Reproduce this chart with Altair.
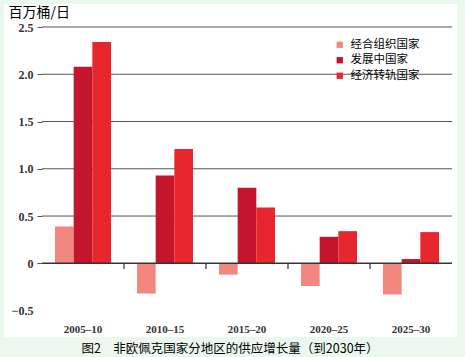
import altair as alt
import pandas as pd

periods = ["2005–10", "2010–15", "2015–20", "2020–25", "2025–30"]
series = ["经合组织国家", "发展中国家", "经济转轨国家"]
oecd = [0.39, -0.32, -0.12, -0.24, -0.33]
developing = [2.08, 0.93, 0.80, 0.28, 0.045]
transition = [2.34, 1.21, 0.59, 0.34, 0.33]
colors = ["#f2877f", "#c3162d", "#e8262d"]
y_ticks = [-0.5, 0, 0.5, 1.0, 1.5, 2.0, 2.5]
grid_values = [0.5, 1.0, 1.5, 2.0, 2.5]
boundaries = [1, 2, 3, 4]

rows = []
for i, p in enumerate(periods):
    for s, vals in zip(series, [oecd, developing, transition]):
        rows.append({"period": p, "series": s, "value": vals[i]})
df = pd.DataFrame(rows)

serif = "Liberation Serif"
cjk = "Noto Sans CJK SC"
yscale = alt.Scale(domain=[-0.6, 2.5], nice=False, zero=False)

yaxis = alt.Axis(
    values=y_ticks, grid=False, domain=False, tickSize=5,
    tickColor="#555555", tickWidth=1,
    tickOpacity={"condition": {"test": "datum.value < 0", "value": 0}, "value": 1},
    labelExpr="datum.value == 0 ? '0' : replace(format(datum.value, '.1f'), '-', '−')",
    labelFont=serif, labelFontSize=12, labelFontWeight="bold",
    labelColor="#333333", labelPadding=4, zindex=1,
    title="百万桶/日", titleAngle=0, titleX=-34, titleY=-15,
    titleAlign="left", titleBaseline="middle", titleFont=cjk,
    titleFontSize=14, titleFontWeight="normal", titleColor="black",
)

panel = alt.Chart(pd.DataFrame({"a": [0]})).mark_rect(color="white").encode(
    x=alt.value(-38), x2=alt.value(415), y=alt.value(-23), y2=alt.value(310)
)

grid = alt.Chart(pd.DataFrame({"v": grid_values})).mark_rule(
    color="#555555", strokeWidth=1
).encode(y=alt.Y("v:Q", scale=yscale, axis=yaxis))

bars = alt.Chart(df).mark_bar(strokeWidth=0).encode(
    x=alt.X(
        "period:N",
        sort=periods,
        scale=alt.Scale(paddingInner=0.317, paddingOuter=0.1585),
        axis=alt.Axis(
            title=None, ticks=False, domain=False, labelAngle=0,
            labelFont=serif, labelFontSize=11, labelFontWeight="bold",
            labelColor="#333333", labelPadding=3, zindex=1,
        ),
    ),
    xOffset=alt.XOffset("series:N", sort=series,
                        scale=alt.Scale(paddingInner=0, paddingOuter=0)),
    y=alt.Y("value:Q", scale=yscale, axis=yaxis),
    color=alt.Color(
        "series:N",
        sort=series,
        scale=alt.Scale(domain=series, range=colors),
        legend=alt.Legend(
            title=None, orient="none", legendX=292, legendY=12,
            symbolType="square", symbolSize=40, symbolStrokeWidth=0,
            labelFont=cjk, labelFontSize=11.5, labelColor="black",
            rowPadding=2.5, labelOffset=5,
        ),
    ),
)

zero = alt.Chart(pd.DataFrame({"a": [0]})).mark_rule(
    color="#333333", strokeWidth=1.5
).encode(y=alt.datum(0))

ticks = alt.Chart(pd.DataFrame({"b": boundaries})).mark_rule(
    color="#333333", strokeWidth=1.2
).encode(
    x=alt.X("b:Q", scale=alt.Scale(domain=[0, 5], nice=False), axis=None),
    y=alt.datum(0),
    y2=alt.datum(-0.06),
)

chart = alt.layer(panel, grid, bars, zero, ticks).resolve_scale(
    x="independent"
).properties(
    width=410,
    height=293,
    autosize=alt.AutoSizeParams(type="none"),
    padding={"left": 42, "top": 27, "right": 13, "bottom": 37},
    background="#eaf8ee",
    title=alt.TitleParams(
        text="图2　非欧佩克国家分地区的供应增长量（到2030年）",
        orient="bottom", anchor="middle", font=cjk, fontSize=12.5,
        fontWeight="normal", color="black", offset=6, dx=-17,
    ),
).configure_view(strokeWidth=0)

chart.save("out.html", embed_options={"renderer": "svg", "actions": False})
